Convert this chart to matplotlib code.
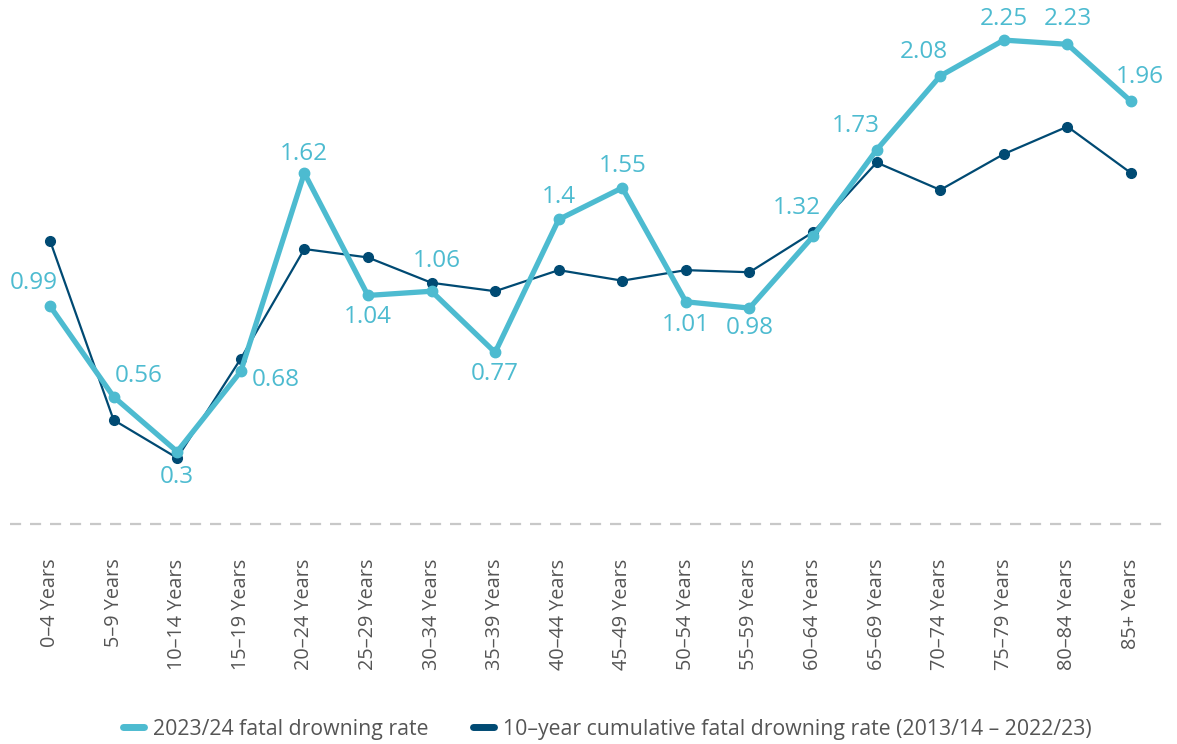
import numpy as np
import matplotlib
matplotlib.use('Agg')
import matplotlib.pyplot as plt
from matplotlib.lines import Line2D

plt.rcParams['font.family'] = ['Open Sans', 'DejaVu Sans']

age_groups = ['0–4 Years', '5–9 Years', '10–14 Years', '15–19 Years', '20–24 Years',
              '25–29 Years', '30–34 Years', '35–39 Years', '40–44 Years', '45–49 Years',
              '50–54 Years', '55–59 Years', '60–64 Years', '65–69 Years', '70–74 Years',
              '75–79 Years', '80–84 Years', '85+ Years']
rate_2023 = [0.99, 0.56, 0.30, 0.68, 1.62, 1.04, 1.06, 0.77, 1.40, 1.55,
             1.01, 0.98, 1.32, 1.73, 2.08, 2.25, 2.23, 1.96]
rate_10yr = [1.30, 0.45, 0.27, 0.74, 1.26, 1.22, 1.10, 1.06, 1.16, 1.11,
             1.16, 1.15, 1.34, 1.67, 1.54, 1.71, 1.84, 1.62]

# label offsets in pixels (dx, dy) relative to each point
label_offsets = [(-16, 23), (25, 21), (0, -25), (35, -9), (0, 19), (0, -22),
                 (5, 30), (0, -22), (0, 22), (0, 22), (0, -23), (0, -20),
                 (-16, 28), (-21, 24), (-16, 24), (0, 21), (0, 25), (9, 24)]

light = '#4dbbd0'
dark = '#004a73'
grey_text = '#555555'

fig = plt.figure(figsize=(11.77, 7.44), dpi=100)
ax = fig.add_axes([10 / 1177, 1 - 524 / 744, 1160 / 1177, 524 / 744])

x = np.arange(len(age_groups))
ax.plot(x, rate_10yr, color=dark, lw=1.6, marker='o', ms=7, zorder=3)
ax.plot(x, rate_2023, color=light, lw=3.8, marker='o', ms=7.5,
        solid_capstyle='round', zorder=4)

for xi, v, (dx, dy) in zip(x, rate_2023, label_offsets):
    ax.annotate(f'{v:g}', (xi, v), xytext=(dx, dy), textcoords='offset pixels',
                ha='center', va='center', fontsize=17.5, color=light, zorder=5)

ax.set_xlim(-40 / 63.6, 17 + 39 / 63.6)
ax.set_ylim(-0.043, 2.44)
ax.axhline(-0.043, color='#c8c8c8', lw=1.6, dashes=(5, 4), clip_on=False)

for s in ax.spines.values():
    s.set_visible(False)
ax.set_yticks([])
ax.set_xticks(x)
ax.set_xticklabels(age_groups, rotation=90, fontsize=14.3, color=grey_text)
ax.tick_params(axis='x', length=0, pad=25)

handles = [Line2D([], [], color=light, lw=5, solid_capstyle='round'),
           Line2D([], [], color=dark, lw=5, solid_capstyle='round')]
labels = ['2023/24 fatal drowning rate',
          '10–year cumulative fatal drowning rate (2013/14 – 2022/23)']
leg = fig.legend(handles, labels, loc='center', bbox_to_anchor=(0.516, 1 - 729 / 744),
                 ncol=2, frameon=False, fontsize=15.3, handlelength=1.0,
                 handletextpad=0.4, columnspacing=2.1)
for t in leg.get_texts():
    t.set_color(grey_text)

fig.savefig('out.png', dpi=100)
